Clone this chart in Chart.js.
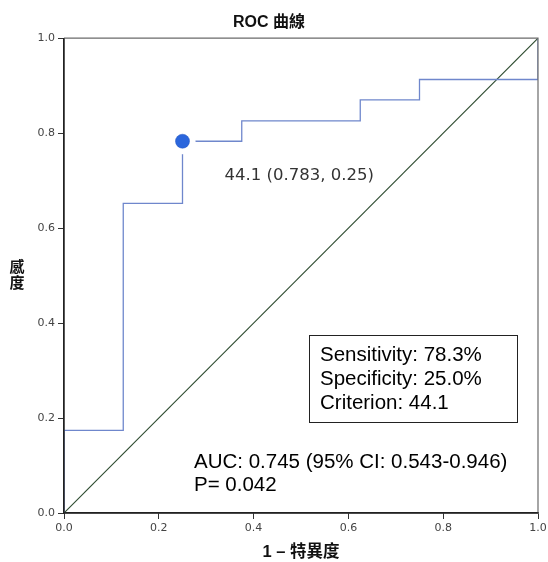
<!DOCTYPE html>
<html>
<head>
<meta charset="utf-8">
<script src="https://cdn.jsdelivr.net/npm/chart.js@4"></script>
<style>
  html, body { margin: 0; padding: 0; background: #fff; overflow: hidden; }
  #wrap { width: 548px; height: 562px; overflow: hidden; }
</style>
</head>
<body>
<div id="wrap"><canvas id="grafico" width="551" height="562"></canvas></div>
<script>
// ROC curve corners (1 - specificity, sensitivity)
const fpr = [0, 0, 0.125, 0.25, 0.375, 0.625, 0.75, 1];
const tpr = [0, 0.174, 0.652, 0.783, 0.826, 0.870, 0.913, 1];
// reference line
const refX = [0, 1];
const refY = [0, 1];
// cutoff point
const corteX = [0.25];
const corteY = [0.783];
const corteLabel = '44.1 (0.783, 0.25)';
const ticks = [0, 0.2, 0.4, 0.6, 0.8, 1.0];
const caixaTextos = ['Sensitivity: 78.3%', 'Specificity: 25.0%', 'Criterion: 44.1'];
const aucTextos = ['AUC: 0.745 (95% CI: 0.543-0.946)', 'P= 0.042'];

const pontos = (xs, ys) => xs.map((x, i) => ({ x: x, y: ys[i] }));

const fonteTick = { family: 'DejaVu Sans', size: 11 };

const anotacoes = {
  id: 'anotacoes',
  afterDraw(chart) {
    const ctx = chart.ctx;
    const a = chart.chartArea;
    const sx = chart.scales.x, sy = chart.scales.y;
    ctx.save();

    // frame top / right
    ctx.strokeStyle = '#6b6b6b';
    ctx.lineWidth = 1.2;
    ctx.beginPath();
    ctx.moveTo(a.left, a.top);
    ctx.lineTo(a.right, a.top);
    ctx.lineTo(a.right, a.bottom);
    ctx.stroke();

    // left / bottom axis on top of the curve
    ctx.strokeStyle = '#222';
    ctx.lineWidth = 1.3;
    ctx.beginPath();
    ctx.moveTo(a.left, a.top);
    ctx.lineTo(a.left, a.bottom);
    ctx.lineTo(a.right, a.bottom);
    ctx.stroke();

    // cutoff label
    ctx.fillStyle = '#333';
    ctx.font = '16.5px "DejaVu Sans"';
    ctx.textBaseline = 'middle';
    ctx.textAlign = 'left';
    ctx.fillText(corteLabel, sx.getPixelForValue(corteX[0]) + 42, sy.getPixelForValue(corteY[0]) + 34);

    // box
    ctx.strokeStyle = '#222';
    ctx.lineWidth = 1;
    ctx.strokeRect(309.5, 335.5, 208, 87);
    ctx.fillStyle = '#000';
    ctx.font = '20.5px "Liberation Sans"';
    caixaTextos.forEach((t, i) => ctx.fillText(t, 320, 355 + i * 24));

    // AUC
    aucTextos.forEach((t, i) => ctx.fillText(t, 194, 462 + i * 23));

    // y title, upright stacked
    ctx.font = 'bold 15px "Noto Sans CJK TC"';
    ctx.fillStyle = '#111';
    ctx.textAlign = 'center';
    ['感', '度'].forEach((c, i) => ctx.fillText(c, 17, 266 + i * 16));

    ctx.restore();
  }
};

const config = {
  type: 'scatter',
  data: {
    datasets: [
      {
        label: 'ROC',
        data: pontos(fpr, tpr),
        showLine: true,
        stepped: 'before',
        borderColor: '#6f87cc',
        borderWidth: 1.3,
        pointRadius: 0,
        fill: false,
        order: 3
      },
      {
        label: 'Referência',
        data: pontos(refX, refY),
        showLine: true,
        borderColor: '#2c4a2e',
        borderWidth: 1.1,
        pointRadius: 0,
        fill: false,
        order: 4
      },
      {
        label: 'halo',
        data: pontos(corteX, corteY),
        pointRadius: 13,
        pointBackgroundColor: '#ffffff',
        pointBorderWidth: 0,
        order: 2
      },
      {
        label: 'Corte',
        data: pontos(corteX, corteY),
        pointRadius: 7,
        pointBackgroundColor: '#2b66dc',
        pointBorderColor: '#2457c0',
        pointBorderWidth: 0.5,
        order: 1
      }
    ]
  },
  options: {
    responsive: false,
    animation: false,
    layout: { padding: { top: 0, right: 13, left: 0, bottom: 0 } },
    plugins: {
      legend: { display: false },
      tooltip: { enabled: false },
      title: {
        display: true,
        text: 'ROC 曲線',
        color: '#111',
        font: { family: '"Liberation Sans", "Noto Sans CJK TC"', size: 16, weight: 'bold' },
        padding: { top: 13, bottom: 6 }
      }
    },
    scales: {
      x: {
        type: 'linear',
        min: 0,
        max: 1,
        afterBuildTicks: s => { s.ticks = ticks.map(v => ({ value: v })); },
        afterFit: s => { s.height = 49; },
        ticks: {
          color: '#444',
          font: fonteTick,
          padding: 3,
          maxRotation: 0,
          callback: v => v.toFixed(1)
        },
        grid: { drawOnChartArea: false, drawTicks: true, tickLength: 6, color: '#333' },
        border: { display: true, color: '#222', width: 1.3 },
        title: {
          display: true,
          text: '1 – 特異度',
          color: '#111',
          font: { family: '"Liberation Sans", "Noto Sans CJK TC"', size: 16.5, weight: 'bold' },
          padding: { top: 0, bottom: 0 }
        }
      },
      y: {
        type: 'linear',
        min: 0,
        max: 1,
        afterBuildTicks: s => { s.ticks = ticks.map(v => ({ value: v })); },
        afterFit: s => { s.width = 64; },
        ticks: {
          color: '#444',
          font: fonteTick,
          padding: 3,
          callback: v => v.toFixed(1)
        },
        grid: { drawOnChartArea: false, drawTicks: true, tickLength: 6, color: '#333' },
        border: { display: true, color: '#222', width: 1.3 }
      }
    }
  },
  plugins: [anotacoes]
};

const grafico = new Chart(document.getElementById('grafico'), config);
</script>
</body>
</html>
